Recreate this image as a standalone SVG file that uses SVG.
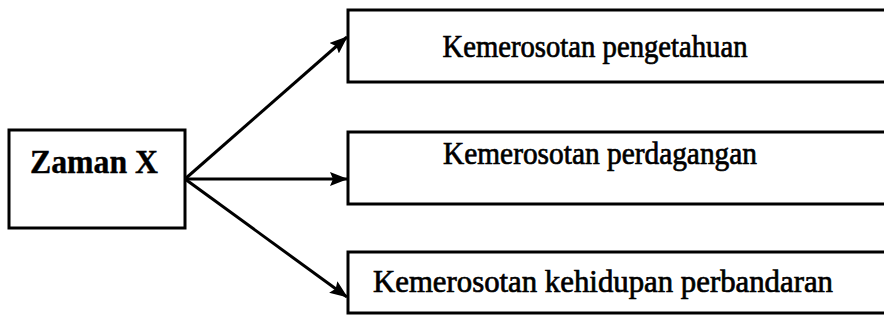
<svg xmlns="http://www.w3.org/2000/svg" width="884" height="323" viewBox="0 0 884 323">
<style>
.box{fill:#fff;stroke:#000;stroke-width:3}
.lbl{font-family:"Liberation Serif","Times New Roman",serif;font-size:31px;fill:#000;stroke:#000;stroke-width:0.7;text-anchor:middle}
.bold{font-weight:bold;font-size:34px;stroke-width:0.4}
.conn{stroke:#000;stroke-width:3;fill:none}
</style>
<defs>
<marker id="ah" viewBox="0 0 18 14" refX="17" refY="7" markerWidth="18" markerHeight="14" markerUnits="userSpaceOnUse" orient="auto">
<path d="M0,0 L18,7 L0,14 L3,7 Z" fill="#000"/>
</marker>
</defs>
<rect width="884" height="323" fill="#fff"/>
<g id="connectors">
<line class="conn" x1="185" y1="179" x2="347" y2="37" marker-end="url(#ah)"/>
<line class="conn" x1="185" y1="179" x2="347" y2="179" marker-end="url(#ah)"/>
<line class="conn" x1="185" y1="179" x2="347" y2="297" marker-end="url(#ah)"/>
</g>
<g id="zaman">
<rect class="box" x="9" y="130" width="176" height="98"/>
<text class="lbl bold" x="94" y="173" textLength="128" lengthAdjust="spacingAndGlyphs">Zaman X</text>
</g>
<g id="pengetahuan">
<rect class="box" x="348" y="10" width="560" height="72"/>
<text class="lbl" x="595" y="57" textLength="305" lengthAdjust="spacingAndGlyphs">Kemerosotan pengetahuan</text>
</g>
<g id="perdagangan">
<rect class="box" x="348" y="132" width="560" height="72"/>
<text class="lbl" x="600" y="164" textLength="314" lengthAdjust="spacingAndGlyphs">Kemerosotan perdagangan</text>
</g>
<g id="perbandaran">
<rect class="box" x="348" y="252" width="560" height="61"/>
<text class="lbl" x="603" y="292" textLength="460" lengthAdjust="spacingAndGlyphs">Kemerosotan kehidupan perbandaran</text>
</g>
</svg>
